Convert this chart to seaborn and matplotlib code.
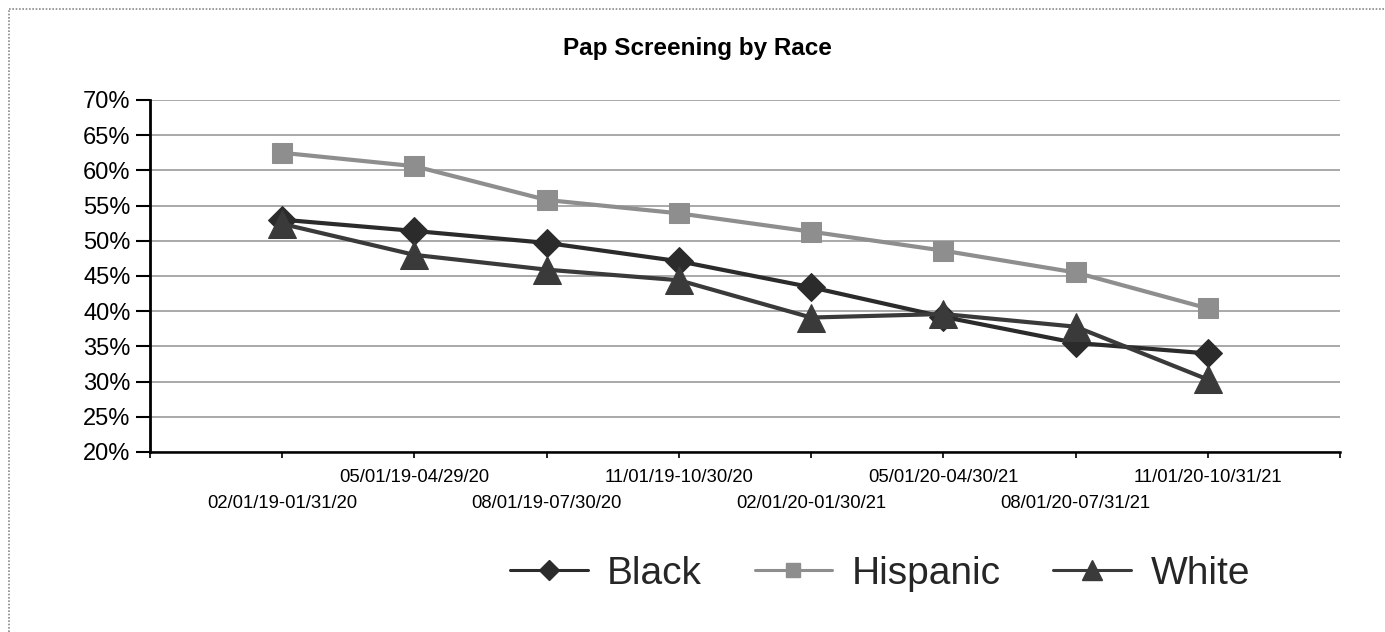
import matplotlib
matplotlib.use("Agg")
import matplotlib.pyplot as plt
from matplotlib.lines import Line2D
from matplotlib.ticker import FuncFormatter
import numpy as np
import pandas as pd
import seaborn as sns

# Reporting periods (rolling 12-month windows)
periods = [
    "02/01/19-01/31/20",
    "05/01/19-04/29/20",
    "08/01/19-07/30/20",
    "11/01/19-10/30/20",
    "02/01/20-01/30/21",
    "05/01/20-04/30/21",
    "08/01/20-07/31/21",
    "11/01/20-10/31/21",
]

# Pap screening rate (%) per race
black = [53.0, 51.4, 49.7, 47.1, 43.4, 39.2, 35.5, 34.0]
hispanic = [62.5, 60.6, 55.8, 53.9, 51.3, 48.6, 45.5, 40.4]
white = [52.4, 48.0, 45.9, 44.4, 39.1, 39.6, 37.8, 30.3]

races = ["Black", "Hispanic", "White"]
y_ticks = list(range(20, 75, 5))

sns.set_theme(style="white")
plt.rcParams["font.family"] = ["Liberation Sans", "DejaVu Sans"]

frames = []
for race, vals in zip(races, [black, hispanic, white]):
    frames.append(pd.DataFrame({
        "pos": np.arange(1, len(periods) + 1),
        "period": periods,
        "rate": vals,
        "race": race,
    }))
df = pd.concat(frames, ignore_index=True)

colors = {"Black": "#2b2b2b", "Hispanic": "#8e8e8e", "White": "#3a3a3a"}
markers = {"Black": "D", "Hispanic": "s", "White": "^"}
msize = {"Black": 14, "Hispanic": 14, "White": 20}

W, H = 1385, 632
fig = plt.figure(figsize=(W / 100, H / 100), dpi=100)
ax = fig.add_axes([150 / W, 1 - 452 / H, (1340 - 150) / W, (452 - 100) / H])

for race in races:
    sub = df[df["race"] == race]
    sns.lineplot(
        data=sub, x="pos", y="rate", ax=ax, color=colors[race],
        marker=markers[race], markersize=msize[race],
        markeredgecolor=colors[race], markerfacecolor=colors[race],
        linewidth=3.0, legend=False, zorder=3,
    )

ax.set_xlim(0, len(periods) + 1)
ax.set_ylim(20, 70)
ax.set_xlabel("")
ax.set_ylabel("")

# y axis
ax.set_yticks(y_ticks)
ax.yaxis.set_major_formatter(FuncFormatter(lambda v, _: f"{v:.0f}%"))
ax.tick_params(axis="y", which="major", length=10, width=1.5, pad=4,
               labelsize=17, colors="black", left=True, direction="out")
ax.grid(axis="y", color="#a2a2a2", linewidth=1.3, zorder=0)
ax.grid(axis="x", visible=False)

# x axis: ticks at category boundaries, staggered labels
ax.set_xticks(np.arange(0, len(periods) + 2))
ax.set_xticklabels([])
ax.tick_params(axis="x", which="major", length=4, width=1.2, bottom=True,
               direction="out", colors="black")
xtrans = ax.get_xaxis_transform()
for i, label in enumerate(periods):
    offset_px = -25 if i % 2 == 1 else -52
    ax.annotate(label, xy=(i + 1, 0), xycoords=xtrans,
                xytext=(0, offset_px * 0.72), textcoords="offset points",
                ha="center", va="center", fontsize=13.3, color="black")

for side in ["top", "right"]:
    ax.spines[side].set_visible(False)
ax.spines["left"].set_color("black")
ax.spines["left"].set_linewidth(2.0)
ax.spines["bottom"].set_color("black")
ax.spines["bottom"].set_linewidth(1.8)

fig.text(697 / W, 1 - 48 / H, "Pap Screening by Race", ha="center",
         va="center", fontsize=17.5, fontweight="bold", color="black")

handles = [
    Line2D([], [], color=colors[r], marker=markers[r], markersize=msize[r] * 0.72,
           markeredgecolor=colors[r], markerfacecolor=colors[r], linewidth=2.2)
    for r in races
]
fig.legend(handles, races, loc="center", bbox_to_anchor=(880 / W, 1 - 574 / H),
           ncol=3, frameon=False, fontsize=28, handlelength=2.0,
           handletextpad=0.5, columnspacing=1.35, borderpad=0)

# outer frame (top and left edges)
fig.add_artist(Line2D([9 / W, 9 / W], [0, 1 - 9 / H], transform=fig.transFigure,
                      color="#8a8a8a", linewidth=1.2, linestyle=(0, (1, 1))))
fig.add_artist(Line2D([9 / W, 1], [1 - 9 / H, 1 - 9 / H], transform=fig.transFigure,
                      color="#8a8a8a", linewidth=1.2, linestyle=(0, (1, 1))))

fig.savefig("out.png", dpi=100, facecolor="white")
